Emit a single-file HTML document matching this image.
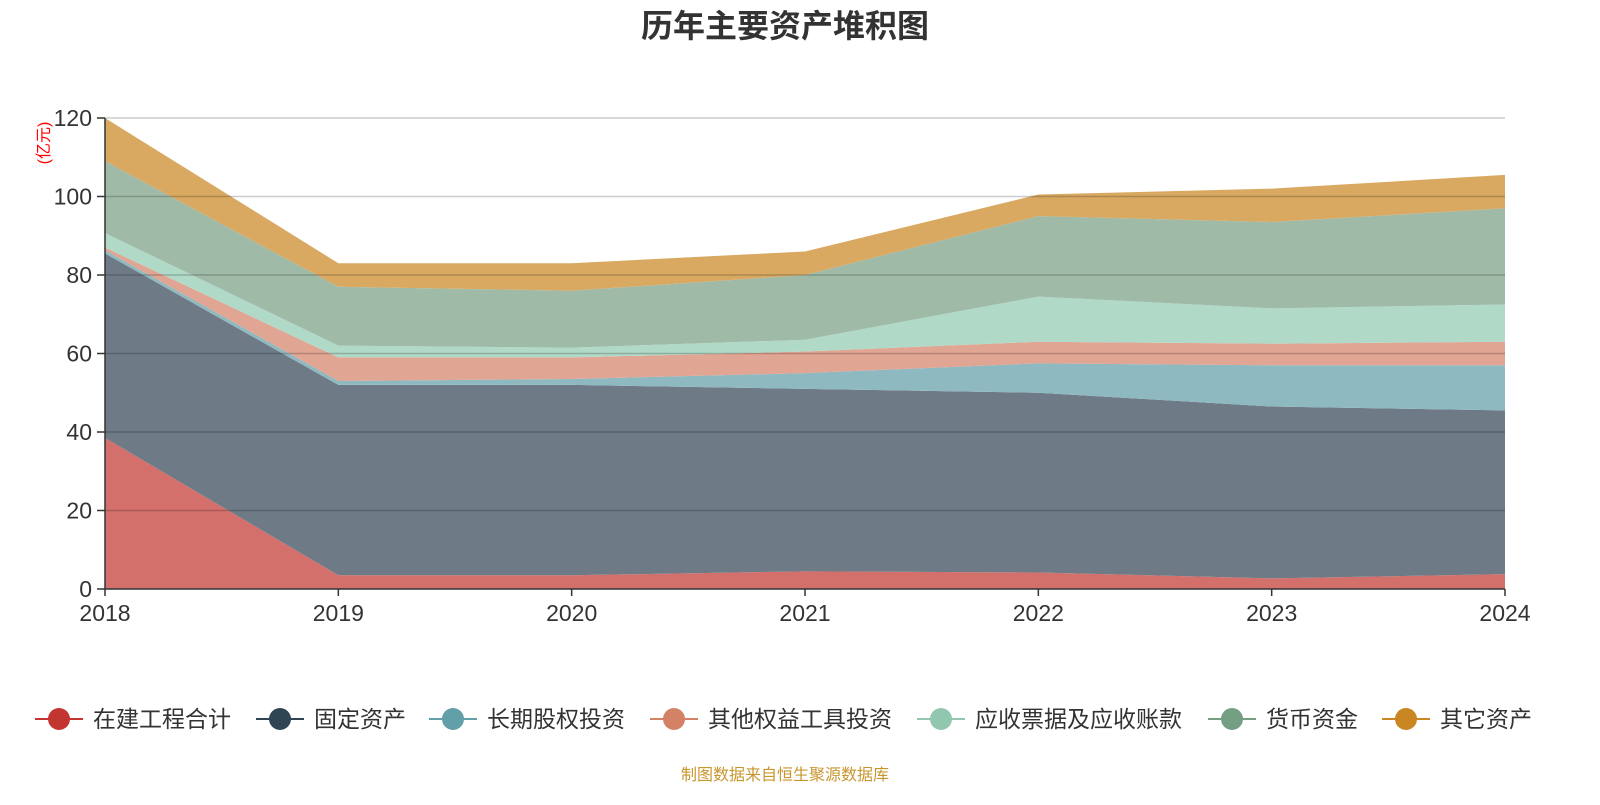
<!DOCTYPE html>
<html><head><meta charset="utf-8"><style>
body{margin:0;background:#fff;font-family:"Liberation Sans","Noto Sans CJK SC",sans-serif;}
svg text{font-family:"Liberation Sans","Noto Sans CJK SC",sans-serif;}
</style></head><body>
<svg id="chart" width="1600" height="800" xmlns="http://www.w3.org/2000/svg">
<text x="785" y="37" text-anchor="middle" font-size="32" font-weight="bold" fill="#333">历年主要资产堆积图</text>
<text transform="translate(49,143) rotate(-90)" text-anchor="middle" font-size="16" fill="#f00">(亿元)</text>
<g id="areas"></g><g id="grid"></g><g id="axes"></g><g id="legend"></g>
<text x="785" y="780" text-anchor="middle" font-size="16" fill="#c8962e">制图数据来自恒生聚源数据库</text>
</svg>
<script>
const years=["2018","2019","2020","2021","2022","2023","2024"];
const zaijian=[38.5,3.5,3.5,4.5,4.2,2.7,3.8];
const guding=[47,48.5,48.5,46.5,45.8,43.8,41.7];
const changqi=[0.8,1,1.5,4,7.5,10.5,11.5];
const qitaquanyi=[0.7,6,5.5,5.5,5.5,5.5,6];
const yingshou=[3.7,3,2.5,3,11.5,9,9.5];
const huobi=[18.3,15,14.5,16.5,20.5,22,24.5];
const qita=[11,6,7,6,5.5,8.5,8.5];
const yTicks=[0,20,40,60,80,100,120];
const names=["在建工程合计","固定资产","长期股权投资","其他权益工具投资","应收票据及应收账款","货币资金","其它资产"];
const series=[zaijian,guding,changqi,qitaquanyi,yingshou,huobi,qita];
const fills=["#d4706c","#6e7b87","#8fb9c0","#e0a593","#b1d9c7","#9fbba8","#d9a962"];
const lcols=["#c23531","#2f4554","#61a0a8","#d48265","#91c7ae","#749f83","#ca8622"];
const keys=["zaijian","guding","changqi","qitaquanyi","yingshou","huobi","qita"];
const NS="http://www.w3.org/2000/svg";
const x0=105,x1=1505,y0=589,y1=118;
const X=i=>x0+(x1-x0)*i/(years.length-1);
const Y=v=>y0-(y0-y1)*v/120;
function mk(t,a,p){const e=document.createElementNS(NS,t);for(const k in a)e.setAttribute(k,a[k]);p.appendChild(e);return e;}
const areas=document.getElementById('areas');
let base=years.map(()=>0);
series.forEach((s,si)=>{
 const top=base.map((b,i)=>b+s[i]);
 let d="";
 top.forEach((v,i)=>{d+=(i?"L":"M")+X(i)+","+Y(v);});
 for(let i=years.length-1;i>=0;i--)d+="L"+X(i)+","+Y(base[i]);
 const p=mk('path',{d:d+"Z",fill:fills[si]},areas);
 
 
 base=top;
});
const grid=document.getElementById('grid');
yTicks.forEach(t=>{
 if(t>0){const l=mk('line',{x1:x0,x2:x1,y1:Y(t),y2:Y(t),stroke:"rgba(0,0,0,0.2)","stroke-width":1.5},grid);
 
 }
});
const axes=document.getElementById('axes');
mk('line',{x1:x0,x2:x0,y1:y1,y2:y0,stroke:"#333","stroke-width":1.5},axes);
mk('line',{x1:x0,x2:x1,y1:y0,y2:y0,stroke:"#333","stroke-width":1.5},axes);
yTicks.forEach(t=>{
 mk('line',{x1:x0-8,x2:x0,y1:Y(t),y2:Y(t),stroke:"#333","stroke-width":1.5},axes);
 const tx=mk('text',{x:x0-13,y:Y(t)+8,"text-anchor":"end","font-size":23,fill:"#333"},axes);
 tx.textContent=t;
 
 
});
years.forEach((y,i)=>{
 mk('line',{x1:X(i),x2:X(i),y1:y0,y2:y0+7,stroke:"#333","stroke-width":1.5},axes);
 const tx=mk('text',{x:X(i),y:621,"text-anchor":"middle","font-size":23,fill:"#333"},axes);
 tx.textContent=y;
 
 
});
const leg=document.getElementById('legend');
const lx=[35,256,429,650,917,1208,1382];
names.forEach((n,i)=>{
 const g=mk('g',{},leg);
 
 
 mk('line',{x1:lx[i],x2:lx[i]+48,y1:719,y2:719,stroke:lcols[i],"stroke-width":2},g);
 mk('circle',{cx:lx[i]+24,cy:719,r:11,fill:lcols[i]},g);
 const t=mk('text',{x:lx[i]+58,y:727,"font-size":23,fill:"#333"},g);
 t.textContent=n;
});
</script>
</body></html>
